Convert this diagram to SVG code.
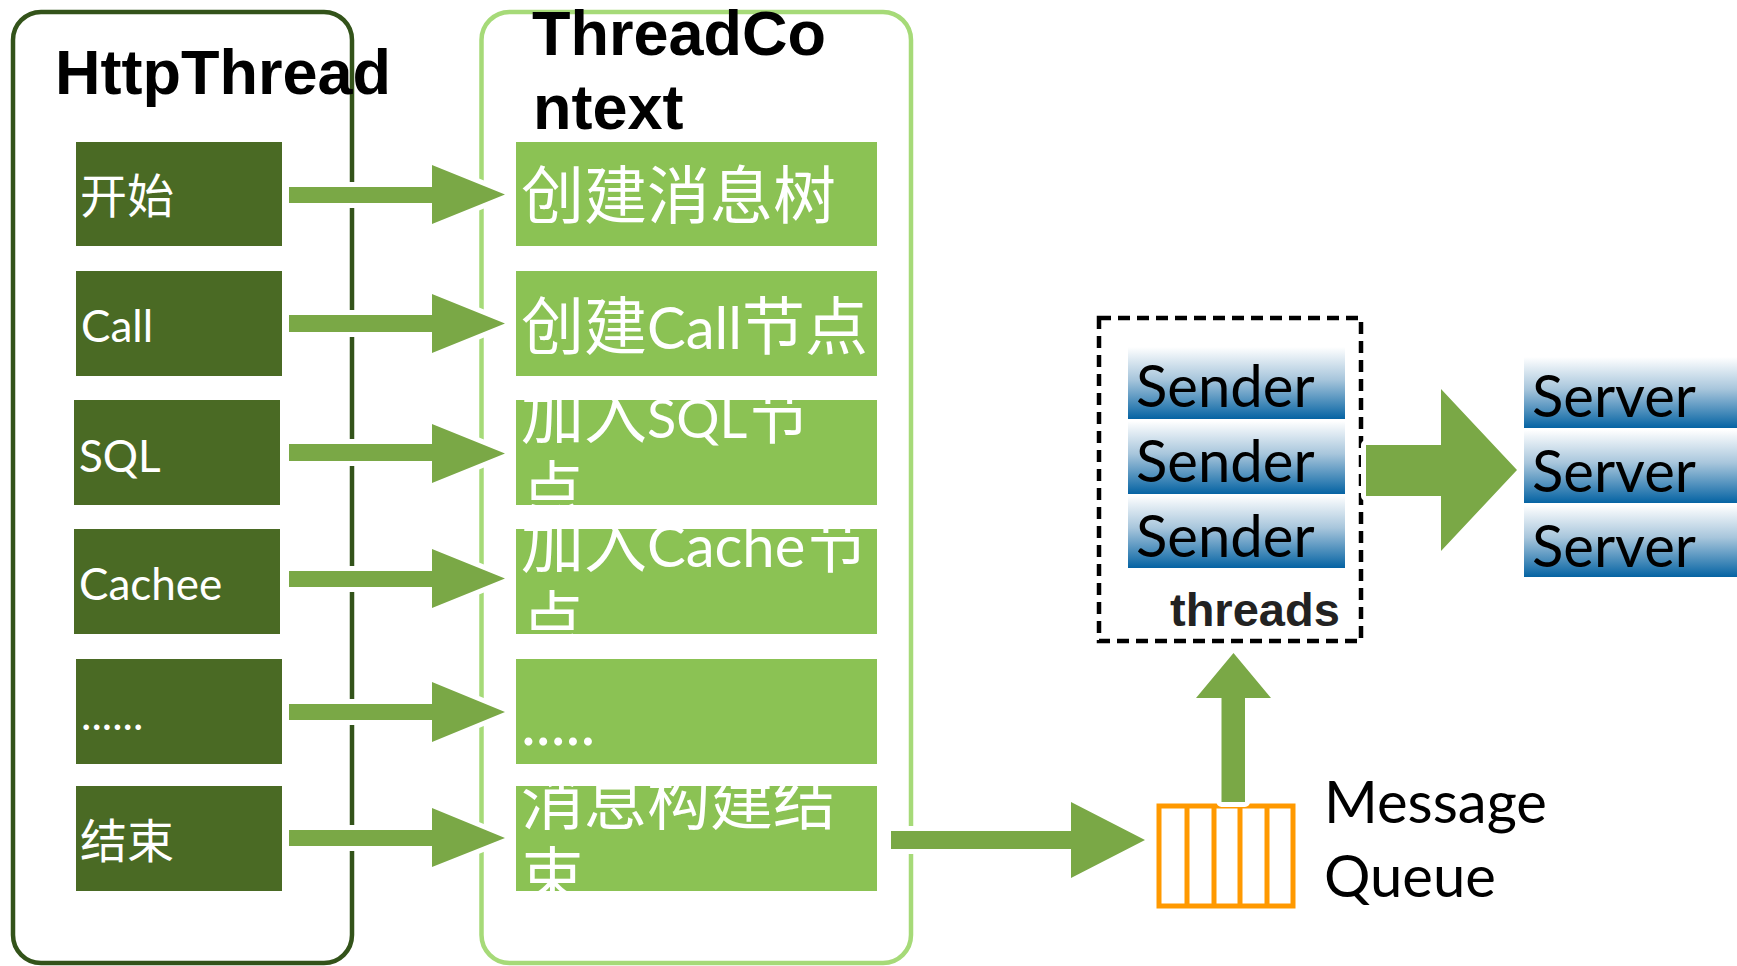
<svg xmlns="http://www.w3.org/2000/svg" width="1737" height="966" viewBox="0 0 1737 966">
<defs>
<linearGradient id="blue" x1="0" y1="0" x2="0" y2="1">
<stop offset="0" stop-color="#ffffff"/>
<stop offset="0.45" stop-color="#a8c6dc"/>
<stop offset="1" stop-color="#0563a3"/>
</linearGradient>
<clipPath id="cp3"><rect x="516" y="400" width="361" height="105"/></clipPath>
<clipPath id="cp4"><rect x="516" y="529" width="361" height="105"/></clipPath>
<clipPath id="cp6"><rect x="516" y="786" width="361" height="105"/></clipPath>
<style>
.title{font-family:"Liberation Sans",Arial,sans-serif;font-weight:bold;font-size:63px;fill:#000}
.dk{fill:#4a6a24}
.lt{fill:#8bc254}
.ltxt{font-family:"Lato","Noto Sans CJK SC",sans-serif;font-size:44px;fill:#fff}
.cjk{font-size:47px}
.rtxt{font-family:"Lato","Noto Sans CJK SC",sans-serif;font-size:63px;fill:#fff}
.lat{font-size:58px}
.lat2{font-size:54px}
.btxt{font-family:"Lato",sans-serif;font-size:58px;fill:#000}
.bluebox{fill:url(#blue)}
.arrow{fill:#7aa846;stroke:#fff;stroke-width:10;stroke-linejoin:round;paint-order:stroke}
</style>
</defs>
<rect width="1737" height="966" fill="#fff"/>

<g id="httpthread">
<rect x="13" y="12" width="339" height="951" rx="28" fill="none" stroke="#33531a" stroke-width="4.5"/>
<text class="title" x="55" y="94">HttpThread</text>
</g>
<g id="threadcontext">
<rect x="481.5" y="12" width="429.5" height="951" rx="28" fill="none" stroke="#a6da78" stroke-width="4.5"/>
<text class="title" x="532" y="55">ThreadCo<tspan x="533" y="129">ntext</tspan></text>
</g>

<g id="h-start"><rect class="dk" x="76" y="142" width="206" height="104"/><text class="ltxt cjk" x="80" y="213">开始</text></g>
<g id="h-call"><rect class="dk" x="76" y="271" width="206" height="105"/><text class="ltxt" x="81" y="342">Call</text></g>
<g id="h-sql"><rect class="dk" x="74" y="400" width="206" height="105"/><text class="ltxt" x="79" y="472" font-size="42">SQL</text></g>
<g id="h-cache"><rect class="dk" x="74" y="529" width="206" height="105"/><text class="ltxt" x="79" y="600">Cachee</text></g>
<g id="h-more"><rect class="dk" x="76" y="659" width="206" height="105"/><text class="ltxt" x="81" y="730">......</text></g>
<g id="h-end"><rect class="dk" x="76" y="786" width="206" height="105"/><text class="ltxt cjk" x="80" y="858">结束</text></g>

<g id="c-tree"><rect class="lt" x="516" y="142" width="361" height="104"/><text class="rtxt" x="521" y="218">创建消息树</text></g>
<g id="c-call"><rect class="lt" x="516" y="271" width="361" height="105"/><text class="rtxt" x="521" y="349">创建<tspan class="lat">Call</tspan>节点</text></g>
<g id="c-sql"><rect class="lt" x="516" y="400" width="361" height="105"/><text class="rtxt" x="521" y="438" clip-path="url(#cp3)">加入<tspan class="lat2">SQL</tspan>节<tspan x="521" y="513">点</tspan></text></g>
<g id="c-cache"><rect class="lt" x="516" y="529" width="361" height="105"/><text class="rtxt" x="521" y="567" clip-path="url(#cp4)">加入<tspan class="lat">Cache</tspan>节<tspan x="521" y="643">点</tspan></text></g>
<g id="c-more"><rect class="lt" x="516" y="659" width="361" height="105"/><text class="rtxt" x="521" y="745">.....</text></g>
<g id="c-end"><rect class="lt" x="516" y="786" width="361" height="105"/><text class="rtxt" x="521" y="824" clip-path="url(#cp6)">消息构建结<tspan x="521" y="899">束</tspan></text></g>

<g id="threads">
<rect x="1099" y="318" width="262" height="323" fill="none" stroke="#000" stroke-width="4.5" stroke-dasharray="12 7"/>
<rect class="bluebox" x="1128" y="347" width="217" height="72"/>
<text class="btxt" x="1136" y="407">Sender</text>
<rect class="bluebox" x="1128" y="421" width="217" height="73"/>
<text class="btxt" x="1136" y="482">Sender</text>
<rect class="bluebox" x="1128" y="495" width="217" height="73"/>
<text class="btxt" x="1136" y="557">Sender</text>
<text x="1170" y="626" font-family="Liberation Sans,Arial,sans-serif" font-weight="bold" font-size="47" fill="#222">threads</text>
</g>

<g id="servers">
<rect class="bluebox" x="1524" y="357" width="213" height="71"/>
<text class="btxt" x="1532" y="417">Server</text>
<rect class="bluebox" x="1524" y="430" width="213" height="73"/>
<text class="btxt" x="1532" y="492">Server</text>
<rect class="bluebox" x="1524" y="505" width="213" height="72"/>
<text class="btxt" x="1532" y="567">Server</text>
</g>

<g id="queue">
<rect x="1159" y="806" width="134" height="100" fill="#fff" stroke="#ff9900" stroke-width="5"/>
<path d="M1187 806V906M1214 806V906M1240 806V906M1267 806V906" stroke="#ff9900" stroke-width="5"/>
<text class="btxt" x="1324" y="823">Message<tspan x="1324" y="897">Queue</tspan></text>
</g>

<g id="connectors">
<path class="arrow" d="M289 187H432V165L505 194.5L432 224V203H289Z"/>
<path class="arrow" d="M289 315H432V294L505 323.5L432 353V332H289Z"/>
<path class="arrow" d="M289 444H432V424L505 453.5L432 483V461H289Z"/>
<path class="arrow" d="M289 571H432V549L505 578.5L432 608V587H289Z"/>
<path class="arrow" d="M289 704H432V682L505 712L432 742V720H289Z"/>
<path class="arrow" d="M289 830H432V808L505 838L432 867V846H289Z"/>
<path class="arrow" d="M891 831H1071V802L1145 840L1071 878V849H891Z"/>
<path class="arrow" d="M1221.5 802V698H1196L1233.5 653L1271 698H1245V802Z"/>
<path class="arrow" d="M1366 445H1441V389L1517 470L1441 551V496H1366Z"/>
</g>
</svg>
